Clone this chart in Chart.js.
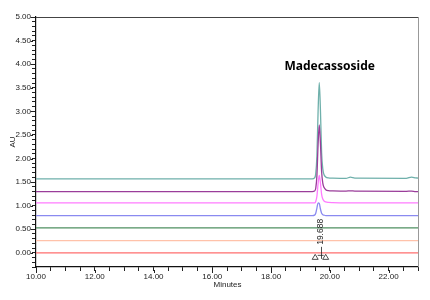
<!DOCTYPE html>
<html>
<head>
<meta charset="utf-8">
<script src="https://cdn.jsdelivr.net/npm/chart.js@4"></script>
<style>
  html, body { margin: 0; padding: 0; background: #fff; }
  canvas { display: block; }
</style>
</head>
<body>
<canvas id="chrom" width="430" height="300"></canvas>
<script>
// retention time points (minutes)
const minutes = [10.0, 19.40, 19.48, 19.52, 19.56, 19.60, 19.64, 19.68, 19.72, 19.76, 19.80, 19.86, 19.95, 20.10, 20.55, 20.70, 20.85, 22.60, 22.78, 22.92, 23.0];

// absorbance traces (AU), one per injection, offset baselines
const traceTeal    = [1.57, 1.57, 1.59, 1.68, 2.06, 3.00, 3.61, 3.02, 2.12, 1.78, 1.66, 1.61, 1.59, 1.585, 1.58, 1.605, 1.585, 1.58, 1.605, 1.59, 1.585];
const tracePurple  = [1.30, 1.30, 1.31, 1.37, 1.64, 2.30, 2.71, 2.32, 1.72, 1.48, 1.39, 1.34, 1.32, 1.315, 1.31, 1.315, 1.31, 1.305, 1.31, 1.30, 1.30];
const traceMagenta = [1.06, 1.06, 1.06, 1.09, 1.20, 1.47, 1.64, 1.48, 1.24, 1.14, 1.10, 1.08, 1.07, 1.065, 1.06, 1.06, 1.06, 1.06, 1.06, 1.06, 1.06];
const traceBlue    = [0.79, 0.79, 0.80, 0.84, 0.95, 1.06, 1.05, 0.93, 0.84, 0.81, 0.80, 0.79, 0.79, 0.79, 0.79, 0.79, 0.79, 0.79, 0.79, 0.79, 0.79];
const traceGreen   = [0.53, 0.53, 0.53, 0.53, 0.53, 0.53, 0.53, 0.53, 0.53, 0.53, 0.53, 0.53, 0.53, 0.53, 0.53, 0.53, 0.53, 0.53, 0.53, 0.53, 0.53];
const tracePeach   = [0.26, 0.26, 0.26, 0.26, 0.26, 0.26, 0.26, 0.26, 0.26, 0.26, 0.26, 0.26, 0.26, 0.26, 0.26, 0.26, 0.26, 0.26, 0.26, 0.26, 0.26];
const traceRed     = [0.00, 0.00, 0.00, 0.00, 0.00, 0.00, 0.00, 0.00, 0.00, 0.00, 0.00, 0.00, 0.00, 0.00, 0.00, 0.00, 0.00, 0.00, 0.00, 0.00, 0.00];

const peakName = 'Madecassoside';
const peakTime = 19.688;
const peakTop = 3.61;

const traces = [
  { data: traceRed, color: '#ff6e6e' },
  { data: tracePeach, color: '#ffc2aa' },
  { data: traceGreen, color: '#4e8f60' },
  { data: traceBlue, color: '#8a8af0' },
  { data: traceMagenta, color: '#ff7cff' },
  { data: tracePurple, color: '#9a3d9a' },
  { data: traceTeal, color: '#6fb0ab' }
];

const isHalf = v => Math.abs(v * 2 - Math.round(v * 2)) < 1e-6;
const isEven = v => Math.abs(v / 2 - Math.round(v / 2)) < 1e-6;

// top/right frame, axis titles and peak annotation
const decorations = {
  id: 'decorations',
  afterDraw(chart) {
    const { ctx, chartArea: a, scales: { x, y } } = chart;
    ctx.save();

    ctx.lineWidth = 1;
    ctx.strokeStyle = '#444';
    ctx.beginPath();
    ctx.moveTo(a.left, a.top + 0.5);
    ctx.lineTo(a.right, a.top + 0.5);
    ctx.stroke();
    ctx.strokeStyle = '#999';
    ctx.beginPath();
    ctx.moveTo(a.right + 0.5, a.top);
    ctx.lineTo(a.right + 0.5, a.bottom);
    ctx.stroke();

    // longer marks on the labelled ticks
    ctx.strokeStyle = '#222';
    ctx.beginPath();
    y.ticks.forEach(t => {
      if (!isHalf(t.value)) return;
      const ty = Math.round(y.getPixelForValue(t.value)) + 0.5;
      ctx.moveTo(a.left - 3, ty);
      ctx.lineTo(a.left - 5.5, ty);
    });
    x.ticks.forEach(t => {
      if (!isEven(t.value)) return;
      const tx = Math.round(x.getPixelForValue(t.value)) + 0.5;
      ctx.moveTo(tx, a.bottom + 3);
      ctx.lineTo(tx, a.bottom + 6);
    });
    ctx.stroke();

    // axis titles
    ctx.fillStyle = '#222';
    ctx.font = '8px "Liberation Sans", Arial, sans-serif';
    ctx.textAlign = 'center';
    ctx.textBaseline = 'middle';
    ctx.fillText('Minutes', (a.left + a.right) / 2 + 0.5, 285);
    ctx.save();
    ctx.translate(13, (a.top + a.bottom) / 2);
    ctx.rotate(-Math.PI / 2);
    ctx.fillText('AU', 0, 0);
    ctx.restore();

    // peak name
    const px = x.getPixelForValue(peakTime);
    ctx.fillStyle = '#000';
    ctx.font = 'bold 12px "Noto Sans", "Open Sans", sans-serif';
    ctx.fillText(peakName, px + 9, y.getPixelForValue(peakTop) - 16);

    // retention time label
    const base = y.getPixelForValue(0);
    ctx.fillStyle = '#222';
    ctx.font = '8.5px "Liberation Sans", Arial, sans-serif';
    ctx.save();
    ctx.translate(px, base - 8);
    ctx.rotate(-Math.PI / 2);
    ctx.textAlign = 'left';
    ctx.fillText(peakTime.toFixed(3), 0, 0);
    ctx.restore();

    // integration marks
    ctx.strokeStyle = '#222';
    ctx.lineWidth = 0.8;
    ctx.beginPath();
    ctx.moveTo(Math.round(px) + 0.5, base - 6);
    ctx.lineTo(Math.round(px) + 0.5, base + 6);
    ctx.moveTo(px - 3, base + 2.5);
    ctx.lineTo(px + 3, base + 2.5);
    ctx.stroke();
    [-5.5, 5].forEach(dx => {
      const cx = px + dx;
      ctx.beginPath();
      ctx.moveTo(cx, base + 1.5);
      ctx.lineTo(cx - 3, base + 6.5);
      ctx.lineTo(cx + 3, base + 6.5);
      ctx.closePath();
      ctx.stroke();
    });

    ctx.restore();
  }
};

const tickFont = { family: '"Liberation Sans", Arial, sans-serif', size: 8 };

new Chart(document.getElementById('chrom'), {
  type: 'line',
  data: {
    datasets: traces.map(t => ({
      data: minutes.map((m, i) => ({ x: m, y: t.data[i] })),
      borderColor: t.color,
      borderWidth: 1.3,
      pointRadius: 0,
      cubicInterpolationMode: 'monotone',
      fill: false
    }))
  },
  options: {
    responsive: false,
    animation: false,
    events: [],
    layout: { padding: { left: 0, top: 17, right: 12, bottom: 0 } },
    plugins: { legend: { display: false }, tooltip: { enabled: false } },
    scales: {
      x: {
        type: 'linear',
        min: 10,
        max: 23,
        grid: {
          display: true,
          drawOnChartArea: false,
          drawTicks: true,
          tickLength: 4,
          tickWidth: 1,
          tickColor: '#222'
        },
        border: { display: true, color: '#111', width: 1.2 },
        afterFit: s => { s.height = 33; },
        ticks: {
          stepSize: 0.5,
          autoSkip: false,
          maxRotation: 0,
          padding: 1,
          color: '#222',
          font: tickFont,
          callback: v => isEven(v) ? v.toFixed(2) : ''
        }
      },
      y: {
        min: -0.3,
        max: 5,
        grid: {
          display: true,
          drawOnChartArea: false,
          drawTicks: true,
          tickLength: 4,
          tickWidth: 1,
          tickColor: '#222'
        },
        border: { display: true, color: '#111', width: 1.2 },
        afterFit: s => { s.width = 36; },
        ticks: {
          stepSize: 0.1,
          autoSkip: false,
          padding: 1,
          color: '#222',
          font: tickFont,
          callback: v => isHalf(v) ? v.toFixed(2) : ''
        }
      }
    }
  },
  plugins: [decorations]
});
</script>
</body>
</html>
